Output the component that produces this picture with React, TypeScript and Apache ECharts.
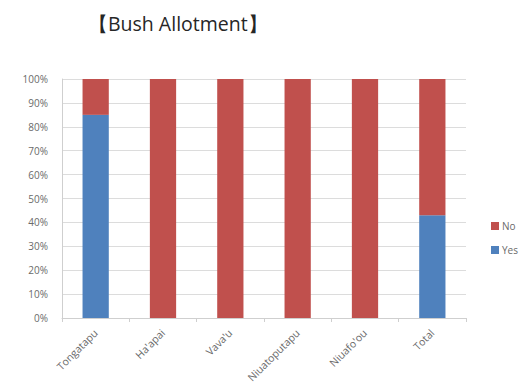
import React, { useEffect, useRef } from "react";
import * as echarts from "echarts";

const categories = ["Tongatapu", "Ha'apai", "Vava'u", "Niuatoputapu", "Niuafo'ou", "Total"];
const yesShare = [85, 0, 0, 0, 0, 43];
const noShare = [15, 100, 100, 100, 100, 57];
const seriesNames = ["Yes", "No"];
const titleText = "【Bush Allotment】";

export default function App() {
  const ref = useRef<HTMLDivElement>(null);

  useEffect(() => {
    if (!ref.current) return;
    const chart = echarts.init(ref.current, null, { renderer: "svg" });
    const labelColor = "#6a6a6a";
    chart.setOption({
      animation: false,
      backgroundColor: "#ffffff",
      textStyle: { fontFamily: "Open Sans, Noto Sans, sans-serif" },
      title: {
        text: titleText,
        left: 83,
        top: 8,
        textStyle: {
          fontSize: 19.5,
          fontWeight: "normal",
          color: "#262626",
          fontFamily: "Open Sans, Noto Sans, sans-serif",
        },
      },
      legend: {
        orient: "vertical",
        left: 486,
        top: 216,
        itemWidth: 8,
        itemHeight: 8,
        itemGap: 14,
        icon: "rect",
        data: ["No", "Yes"],
        textStyle: { fontSize: 10, color: labelColor, padding: [0, 0, 0, -2] },
      },
      grid: { left: 62, right: 56, top: 79, bottom: 73 },
      xAxis: {
        type: "category",
        data: categories,
        axisLine: { lineStyle: { color: "#cfcfcf" } },
        axisTick: { show: true, length: 4, lineStyle: { color: "#cfcfcf" } },
        axisLabel: { rotate: 45, fontSize: 10.5, color: labelColor, margin: 13 },
      },
      yAxis: {
        type: "value",
        min: 0,
        max: 100,
        interval: 10,
        axisLine: { show: true, lineStyle: { color: "#cfcfcf" } },
        axisTick: { show: false },
        splitLine: { lineStyle: { color: "#dcdcdc" } },
        axisLabel: { fontSize: 10, color: labelColor, formatter: "{value}%", margin: 14 },
      },
      series: [
        {
          name: seriesNames[0],
          type: "bar",
          stack: "share",
          barWidth: "39%",
          data: yesShare,
          itemStyle: { color: "#4f81bd" },
        },
        {
          name: seriesNames[1],
          type: "bar",
          stack: "share",
          barWidth: "39%",
          data: noShare,
          itemStyle: { color: "#c0504d" },
        },
      ],
    });
    return () => chart.dispose();
  }, []);

  return (
    <div
      ref={ref}
      style={{ position: "absolute", left: 0, top: 0, width: 522, height: 391 }}
    />
  );
}
